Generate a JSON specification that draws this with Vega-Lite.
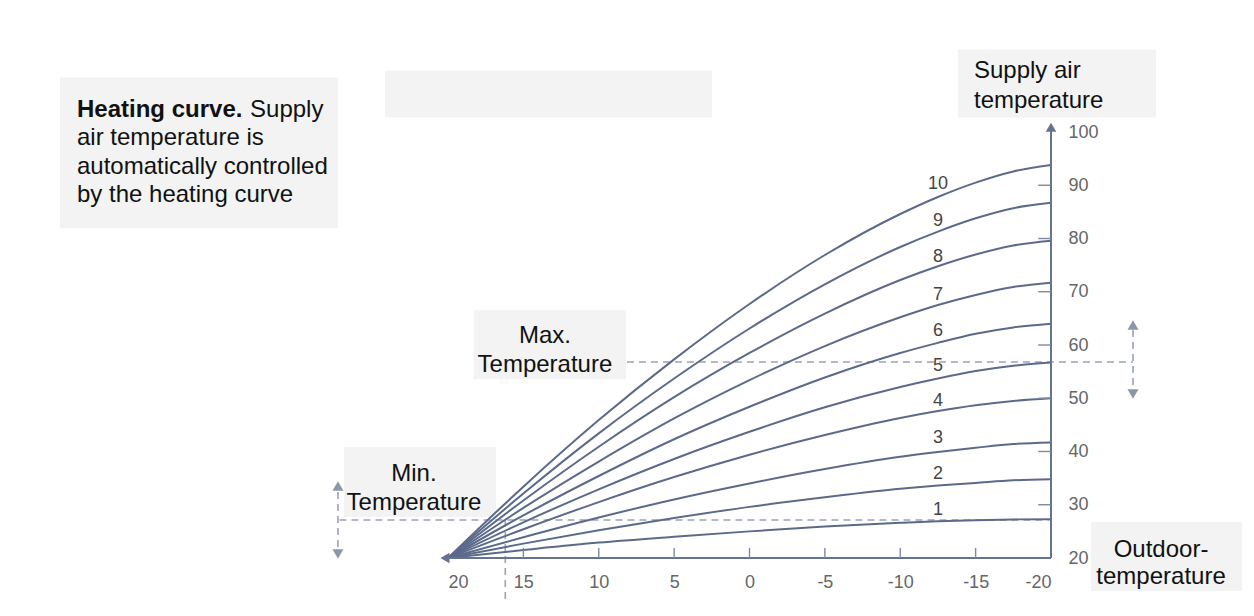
{
  "$schema": "https://vega.github.io/schema/vega-lite/v6.json",
  "width": 603,
  "height": 426,
  "autosize": "none",
  "padding": {"left": 448, "top": 132, "right": 203, "bottom": 58},
  "background": "white",
  "config": {"view": {"stroke": null}, "font": "Liberation Sans"},
  "datasets": {
    "boxes": [
      {"t": 45.74, "t2": 27.3, "v": 110.24, "v2": 81.91},
      {"t": 24.18, "t2": 2.49, "v": 111.56, "v2": 102.74},
      {"t": -13.83, "t2": -26.97, "v": 115.5, "v2": 102.74},
      {"t": 18.28, "t2": 8.19, "v": 66.53, "v2": 53.58},
      {"t": 26.9, "t2": 16.82, "v": 40.83, "v2": 27.69},
      {"t": -22.65, "t2": -32.67, "v": 26.75, "v2": 13.81}
    ],
    "curves": [
      {"c": 1, "t": 20, "v": 20}, {"c": 1, "t": 15, "v": 21.5}, {"c": 1, "t": 10, "v": 22.9}, {"c": 1, "t": 5, "v": 24.0}, {"c": 1, "t": 0, "v": 25.0}, {"c": 1, "t": -5, "v": 25.9}, {"c": 1, "t": -10, "v": 26.6}, {"c": 1, "t": -12.5, "v": 26.9}, {"c": 1, "t": -15, "v": 27.1}, {"c": 1, "t": -17.5, "v": 27.25}, {"c": 1, "t": -20, "v": 27.3},
      {"c": 2, "t": 20, "v": 20}, {"c": 2, "t": 15, "v": 22.7}, {"c": 2, "t": 10, "v": 25.2}, {"c": 2, "t": 5, "v": 27.5}, {"c": 2, "t": 0, "v": 29.6}, {"c": 2, "t": -5, "v": 31.4}, {"c": 2, "t": -10, "v": 33.0}, {"c": 2, "t": -12.5, "v": 33.6}, {"c": 2, "t": -15, "v": 34.1}, {"c": 2, "t": -17.5, "v": 34.6}, {"c": 2, "t": -20, "v": 34.8},
      {"c": 3, "t": 20, "v": 20}, {"c": 3, "t": 15, "v": 23.9}, {"c": 3, "t": 10, "v": 27.6}, {"c": 3, "t": 5, "v": 31.0}, {"c": 3, "t": 0, "v": 34.0}, {"c": 3, "t": -5, "v": 36.7}, {"c": 3, "t": -10, "v": 39.0}, {"c": 3, "t": -12.5, "v": 39.9}, {"c": 3, "t": -15, "v": 40.7}, {"c": 3, "t": -17.5, "v": 41.4}, {"c": 3, "t": -20, "v": 41.7},
      {"c": 4, "t": 20, "v": 20}, {"c": 4, "t": 15, "v": 25.4}, {"c": 4, "t": 10, "v": 30.5}, {"c": 4, "t": 5, "v": 35.2}, {"c": 4, "t": 0, "v": 39.4}, {"c": 4, "t": -5, "v": 43.1}, {"c": 4, "t": -10, "v": 46.3}, {"c": 4, "t": -12.5, "v": 47.6}, {"c": 4, "t": -15, "v": 48.7}, {"c": 4, "t": -17.5, "v": 49.5}, {"c": 4, "t": -20, "v": 50.0},
      {"c": 5, "t": 20, "v": 20}, {"c": 5, "t": 15, "v": 26.7}, {"c": 5, "t": 10, "v": 32.9}, {"c": 5, "t": 5, "v": 38.6}, {"c": 5, "t": 0, "v": 43.7}, {"c": 5, "t": -5, "v": 48.3}, {"c": 5, "t": -10, "v": 52.1}, {"c": 5, "t": -12.5, "v": 53.7}, {"c": 5, "t": -15, "v": 55.1}, {"c": 5, "t": -17.5, "v": 56.1}, {"c": 5, "t": -20, "v": 56.7},
      {"c": 6, "t": 20, "v": 20}, {"c": 6, "t": 15, "v": 28.0}, {"c": 6, "t": 10, "v": 35.4}, {"c": 6, "t": 5, "v": 42.3}, {"c": 6, "t": 0, "v": 48.4}, {"c": 6, "t": -5, "v": 53.9}, {"c": 6, "t": -10, "v": 58.5}, {"c": 6, "t": -12.5, "v": 60.4}, {"c": 6, "t": -15, "v": 62.1}, {"c": 6, "t": -17.5, "v": 63.3}, {"c": 6, "t": -20, "v": 64.0},
      {"c": 7, "t": 20, "v": 20}, {"c": 7, "t": 15, "v": 29.4}, {"c": 7, "t": 10, "v": 38.1}, {"c": 7, "t": 5, "v": 46.2}, {"c": 7, "t": 0, "v": 53.4}, {"c": 7, "t": -5, "v": 59.8}, {"c": 7, "t": -10, "v": 65.2}, {"c": 7, "t": -12.5, "v": 67.5}, {"c": 7, "t": -15, "v": 69.4}, {"c": 7, "t": -17.5, "v": 70.9}, {"c": 7, "t": -20, "v": 71.7},
      {"c": 8, "t": 20, "v": 20}, {"c": 8, "t": 15, "v": 30.8}, {"c": 8, "t": 10, "v": 40.9}, {"c": 8, "t": 5, "v": 50.2}, {"c": 8, "t": 0, "v": 58.5}, {"c": 8, "t": -5, "v": 65.9}, {"c": 8, "t": -10, "v": 72.2}, {"c": 8, "t": -12.5, "v": 74.8}, {"c": 8, "t": -15, "v": 77.0}, {"c": 8, "t": -17.5, "v": 78.7}, {"c": 8, "t": -20, "v": 79.6},
      {"c": 9, "t": 20, "v": 20}, {"c": 9, "t": 15, "v": 32.1}, {"c": 9, "t": 10, "v": 43.4}, {"c": 9, "t": 5, "v": 53.7}, {"c": 9, "t": 0, "v": 63.1}, {"c": 9, "t": -5, "v": 71.4}, {"c": 9, "t": -10, "v": 78.4}, {"c": 9, "t": -12.5, "v": 81.3}, {"c": 9, "t": -15, "v": 83.8}, {"c": 9, "t": -17.5, "v": 85.7}, {"c": 9, "t": -20, "v": 86.7},
      {"c": 10, "t": 20, "v": 20}, {"c": 10, "t": 15, "v": 33.4}, {"c": 10, "t": 10, "v": 45.9}, {"c": 10, "t": 5, "v": 57.3}, {"c": 10, "t": 0, "v": 67.7}, {"c": 10, "t": -5, "v": 76.9}, {"c": 10, "t": -10, "v": 84.6}, {"c": 10, "t": -12.5, "v": 87.8}, {"c": 10, "t": -15, "v": 90.5}, {"c": 10, "t": -17.5, "v": 92.6}, {"c": 10, "t": -20, "v": 93.8}
    ],
    "curveLabels": [
      {"n": "1", "t": -12.5, "v": 29.0}, {"n": "2", "t": -12.5, "v": 35.7}, {"n": "3", "t": -12.5, "v": 42.5},
      {"n": "4", "t": -12.5, "v": 49.4}, {"n": "5", "t": -12.5, "v": 56.0}, {"n": "6", "t": -12.5, "v": 62.7},
      {"n": "7", "t": -12.5, "v": 69.4}, {"n": "8", "t": -12.5, "v": 76.6}, {"n": "9", "t": -12.5, "v": 83.3},
      {"n": "10", "t": -12.5, "v": 90.2}
    ],
    "dashes": [
      {"t": 8.13, "t2": -25.44, "v": 56.8, "v2": 56.8},
      {"t": 27.2, "t2": -19.9, "v": 27.13, "v2": 27.13},
      {"t": -25.44, "t2": -25.44, "v": 62.8, "v2": 51.7},
      {"t": 27.3, "t2": 27.3, "v": 32.4, "v2": 21.9},
      {"t": 16.2, "t2": 16.2, "v": 27.13, "v2": 11.75}
    ],
    "axisLines": [
      {"t": 20.3, "t2": -20, "v": 20, "v2": 20},
      {"t": -20, "t2": -20, "v": 20, "v2": 101}
    ],
    "ticks": [
      {"t": 15, "t2": 15, "v": 20, "v2": 21.9}, {"t": 10, "t2": 10, "v": 20, "v2": 21.9},
      {"t": 5, "t2": 5, "v": 20, "v2": 21.9}, {"t": 0, "t2": 0, "v": 20, "v2": 21.9},
      {"t": -5, "t2": -5, "v": 20, "v2": 21.9}, {"t": -10, "t2": -10, "v": 20, "v2": 21.9},
      {"t": -15, "t2": -15, "v": 20, "v2": 21.9},
      {"t": -20, "t2": -19.15, "v": 30, "v2": 30}, {"t": -20, "t2": -19.15, "v": 40, "v2": 40},
      {"t": -20, "t2": -19.15, "v": 50, "v2": 50}, {"t": -20, "t2": -19.15, "v": 60, "v2": 60},
      {"t": -20, "t2": -19.15, "v": 70, "v2": 70}, {"t": -20, "t2": -19.15, "v": 80, "v2": 80},
      {"t": -20, "t2": -19.15, "v": 90, "v2": 90}
    ],
    "axisArrows": [
      {"dir": "up", "t": -20, "v": 100.9},
      {"dir": "left", "t": 20.2, "v": 20}
    ],
    "dashArrows": [
      {"dir": "up", "t": -25.44, "v": 63.76}, {"dir": "down", "t": -25.44, "v": 50.8},
      {"dir": "up", "t": 27.3, "v": 33.5}, {"dir": "down", "t": 27.3, "v": 20.75}
    ],
    "notesBold": [
      {"s": "Heating curve.", "t": 44.61, "v": 102.74}
    ],
    "notesLeft": [
      {"s": "Supply", "t": 33.13, "v": 102.74},
      {"s": "air temperature is", "t": 44.61, "v": 97.49},
      {"s": "automatically controlled", "t": 44.61, "v": 92.05},
      {"s": "by the heating curve", "t": 44.61, "v": 86.79},
      {"s": "Supply air", "t": -14.89, "v": 110.06},
      {"s": "temperature", "t": -14.89, "v": 104.6}
    ],
    "notesCenter": [
      {"s": "Max.", "t": 13.57, "v": 60.34},
      {"s": "Temperature", "t": 13.57, "v": 54.9},
      {"s": "Min.", "t": 22.26, "v": 34.45},
      {"s": "Temperature", "t": 22.26, "v": 29.0},
      {"s": "Outdoor-", "t": -27.3, "v": 20.19},
      {"s": "temperature", "t": -27.3, "v": 15.12}
    ]
  },
  "encoding": {
    "x": {
      "field": "t", "type": "quantitative",
      "scale": {"domain": [-20, 20], "reverse": true, "nice": false, "zero": false},
      "axis": {
        "orient": "bottom", "values": [20, 15, 10, 5, 0, -5, -10, -15, -20],
        "domain": false, "ticks": false, "grid": false, "title": null,
        "labelFontSize": 18, "labelColor": "#666666", "labelPadding": 15,
        "labelFont": "Liberation Sans", "labelExpr": "toString(datum.value)"
      }
    },
    "y": {
      "field": "v", "type": "quantitative",
      "scale": {"domain": [20, 100], "nice": false, "zero": false},
      "axis": {
        "orient": "right", "values": [20, 30, 40, 50, 60, 70, 80, 90, 100],
        "domain": false, "ticks": false, "grid": false, "title": null,
        "labelFontSize": 18, "labelColor": "#666666", "labelPadding": 17,
        "labelFont": "Liberation Sans"
      }
    }
  },
  "layer": [
    {
      "data": {"name": "boxes"},
      "mark": {"type": "rect", "fill": "#f3f3f3"},
      "encoding": {"x2": {"field": "t2"}, "y2": {"field": "v2"}}
    },
    {
      "data": {"name": "dashes"},
      "mark": {"type": "rule", "stroke": "#9aa3b6", "strokeWidth": 1.6, "strokeDash": [7, 5]},
      "encoding": {"x2": {"field": "t2"}, "y2": {"field": "v2"}}
    },
    {
      "data": {"name": "curves"},
      "mark": {"type": "line", "interpolate": "monotone", "stroke": "#5b6a8b", "strokeWidth": 2},
      "encoding": {"detail": {"field": "c", "type": "nominal"}}
    },
    {
      "data": {"name": "axisLines"},
      "mark": {"type": "rule", "stroke": "#66738f", "strokeWidth": 2},
      "encoding": {"x2": {"field": "t2"}, "y2": {"field": "v2"}}
    },
    {
      "data": {"name": "ticks"},
      "mark": {"type": "rule", "stroke": "#7d88a2", "strokeWidth": 1.4},
      "encoding": {"x2": {"field": "t2"}, "y2": {"field": "v2"}}
    },
    {
      "data": {"name": "axisArrows"},
      "mark": {"type": "point", "filled": true, "fill": "#66738f", "size": 110, "opacity": 1},
      "encoding": {
        "shape": {"field": "dir", "type": "nominal", "legend": null,
          "scale": {"domain": ["up", "down", "left"], "range": ["triangle-up", "triangle-down", "triangle-left"]}}
      }
    },
    {
      "data": {"name": "dashArrows"},
      "mark": {"type": "point", "filled": true, "fill": "#8c96ab", "size": 120, "opacity": 1},
      "encoding": {
        "shape": {"field": "dir", "type": "nominal", "legend": null,
          "scale": {"domain": ["up", "down", "left"], "range": ["triangle-up", "triangle-down", "triangle-left"]}}
      }
    },
    {
      "data": {"name": "curveLabels"},
      "mark": {"type": "text", "fontSize": 18, "fill": "#444444", "align": "center", "baseline": "middle", "font": "Liberation Sans"},
      "encoding": {"text": {"field": "n"}}
    },
    {
      "data": {"name": "notesBold"},
      "mark": {"type": "text", "fontSize": 24, "fontWeight": "bold", "fill": "#111111", "align": "left", "baseline": "alphabetic", "font": "Liberation Sans"},
      "encoding": {"text": {"field": "s"}}
    },
    {
      "data": {"name": "notesLeft"},
      "mark": {"type": "text", "fontSize": 24, "fill": "#111111", "align": "left", "baseline": "alphabetic", "font": "Liberation Sans"},
      "encoding": {"text": {"field": "s"}}
    },
    {
      "data": {"name": "notesCenter"},
      "mark": {"type": "text", "fontSize": 24, "fill": "#111111", "align": "center", "baseline": "alphabetic", "font": "Liberation Sans"},
      "encoding": {"text": {"field": "s"}}
    }
  ]
}
